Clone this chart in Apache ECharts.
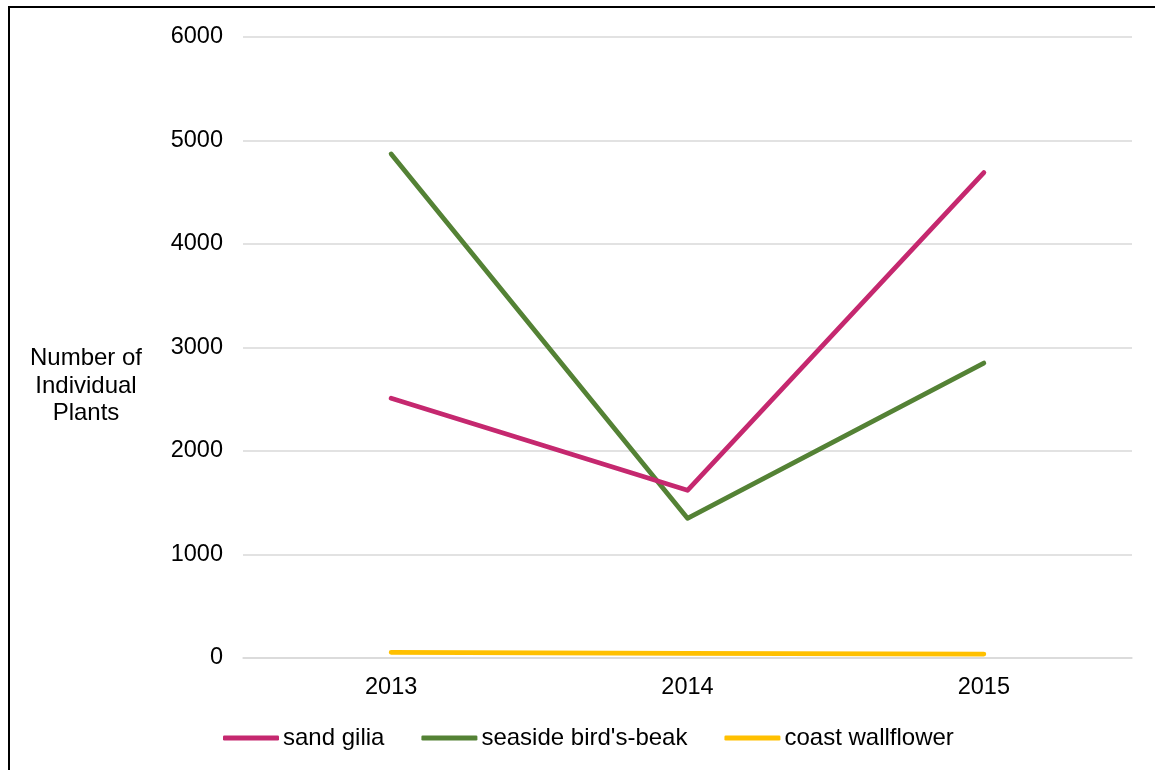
<!DOCTYPE html>
<html><head><meta charset="utf-8">
<script src="https://cdn.jsdelivr.net/npm/echarts@6/dist/echarts.min.js"></script>
<style>html,body{margin:0;padding:0;background:#fff}#c{width:1155px;height:770px}</style>
</head><body><div id="c"></div>
<script>
const categories = ['2013', '2014', '2015'];
const sandGilia = [2510, 1620, 4690];
const seasideBirdsBeak = [4870, 1350, 2850];
const coastWallflower = [55, 45, 38];
const seriesNames = ['sand gilia', "seaside bird's-beak", 'coast wallflower'];
const seriesColors = ['#C5286F', '#548235', '#FFC000'];
const yTicks = { min: 0, max: 6000, interval: 1000 };

const chart = echarts.init(document.getElementById('c'), null, { renderer: 'canvas' });
const font = 'Liberation Sans, Arial, sans-serif';
const fs = 23.5;
const values = [sandGilia, seasideBirdsBeak, coastWallflower];
chart.setOption({
  animation: false,
  backgroundColor: '#fff',
  graphic: [
    { type: 'rect', shape: { x: 9, y: 7, width: 1200, height: 800 }, style: { fill: 'none', stroke: '#000', lineWidth: 2 }, silent: true },
    { type: 'text', x: 86, y: 345, style: { text: 'Number of\nIndividual\nPlants', font: '24px ' + font, fill: '#000', textAlign: 'center', align: 'center', textVerticalAlign: 'top', lineHeight: 27.5 }, silent: true }
  ],
  grid: { left: 243, right: 23, top: 37, bottom: 112, containLabel: false },
  legend: {
    left: 223, top: 726, padding: 0,
    itemWidth: 56, itemHeight: 5, itemGap: 37,
    icon: 'roundRect',
    textStyle: { fontFamily: font, fontSize: 24, color: '#000', padding: [0, 0, 0, -1] },
    data: seriesNames
  },
  xAxis: {
    type: 'category', data: categories,
    axisLine: { show: true, lineStyle: { color: '#d9d9d9', width: 1.5 } },
    axisTick: { show: false },
    axisLabel: { fontFamily: font, fontSize: fs, color: '#000', margin: 18 }
  },
  yAxis: {
    type: 'value', min: yTicks.min, max: yTicks.max, interval: yTicks.interval,
    axisLine: { show: false }, axisTick: { show: false },
    splitLine: { lineStyle: { color: '#d9d9d9', width: 1.5 } },
    axisLabel: { fontFamily: font, fontSize: fs, color: '#000', margin: 20, formatter: v => String(v) }
  },
  series: values.map((v, i) => ({
    name: seriesNames[i], type: 'line', data: v, symbol: 'none',
    color: seriesColors[i],
    lineStyle: { width: 4.8, color: seriesColors[i], cap: 'round', join: 'round' },
    itemStyle: { color: seriesColors[i] },
    z: 3 - i
  }))
});
</script></body></html>
